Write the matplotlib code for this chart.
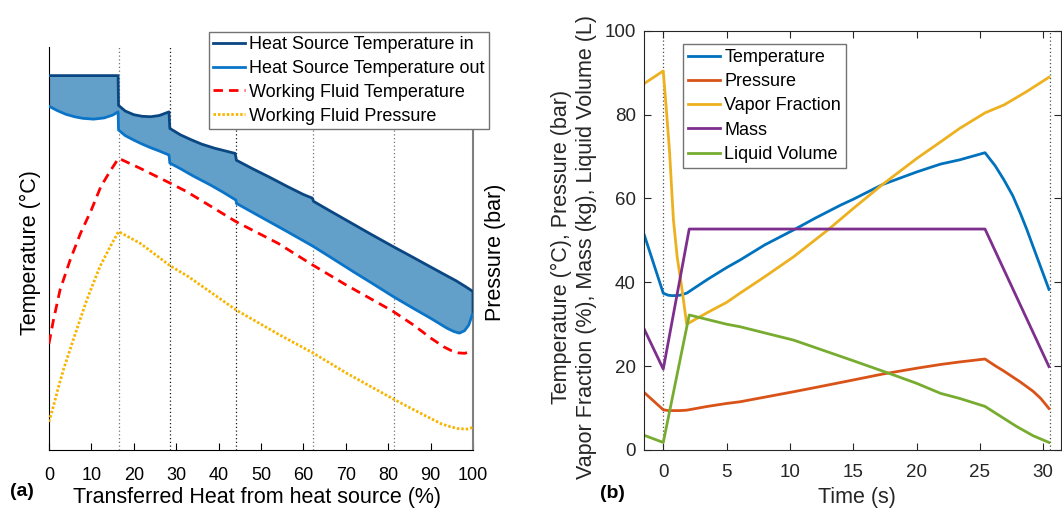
import numpy as np
import matplotlib.pyplot as plt

plt.rcParams['font.family'] = ['Liberation Sans', 'DejaVu Sans']

# ---- (a) heat source / working fluid profile (y in % of axis height, no scale shown)
hs_in_x = [0, 16.3, 16.4, 18.0, 20.0, 22.0, 24.0, 26.0, 28.3, 28.5, 31.0, 33.5, 36.0, 39.0,
           42.0, 43.9, 44.2, 48.0, 52.0, 56.0, 60.0, 62.1, 62.4, 66.0, 72.0, 76.0, 81.3,
           85.0, 89.0, 93.0, 96.0, 98.3, 99.6, 100.0, 100.0]
hs_in_y = [92.9, 92.9, 85.5, 84.1, 83.2, 82.8, 82.7, 83.0, 83.9, 79.8, 78.2, 77.0, 75.9, 74.9,
           74.1, 73.6, 71.9, 69.8, 67.7, 65.5, 63.4, 62.5, 61.7, 59.5, 55.9, 53.5, 50.4,
           48.3, 46.0, 43.7, 42.0, 40.5, 39.6, 39.3, 33.7]
hs_out_x = [0, 2, 4, 6, 8, 10.5, 13, 15, 16.3, 16.4, 18, 20, 22, 24, 26, 28.3, 28.5, 31, 34,
            38, 41, 44.1, 44.2, 50, 56, 62.2, 66, 72, 76, 81.3, 86, 90, 93.9, 95.5, 96.8,
            98, 99, 99.8, 100]
hs_out_y = [85.3, 84.2, 83.3, 82.7, 82.3, 82.1, 82.4, 83.1, 83.9, 79.4, 78.0, 76.9, 75.9,
            75.0, 74.2, 73.2, 71.2, 69.8, 68.0, 65.8, 64.0, 62.0, 61.2, 57.8, 54.3, 50.6,
            48.1, 44.1, 41.5, 38.0, 35.1, 32.7, 30.2, 29.4, 29.0, 29.6, 31.0, 33.5, 33.7]
wf_t_x = [0, 1.0, 2.6, 5.0, 7.4, 10.0, 12.2, 14.3, 16.4, 21.5, 28.6, 32.5, 44.2, 54.0,
          62.2, 70.0, 81.0, 86.0, 90.0, 93.1, 95.0, 96.5, 98.0, 100.0]
wf_t_y = [26.4, 32.0, 39.7, 47.2, 53.7, 59.6, 65.3, 69.0, 72.4, 69.9, 66.2, 64.1, 56.6, 51.3,
          45.9, 41.0, 34.5, 31.0, 27.8, 25.6, 24.6, 24.1, 24.0, 24.5]
wf_p_x = [0, 1.0, 2.2, 3.4, 5.7, 8.9, 12.0, 14.4, 16.4, 21.5, 28.6, 32.9, 44.2, 54.5,
          62.4, 70.3, 81.3, 86.0, 89.9, 92.5, 94.6, 96.5, 98.6, 100.0]
wf_p_y = [7.0, 10.7, 15.5, 19.9, 27.3, 37.2, 45.5, 50.4, 54.2, 51.3, 45.7, 43.0, 34.7, 28.5,
          24.0, 19.0, 12.6, 10.0, 7.9, 6.5, 5.8, 5.3, 5.2, 5.6]
zone_x = [16.4, 28.5, 44.1, 62.2, 81.3]
zone_c = ['0.45', '0.1', '0.1', '0.45', '0.45']

# ---- (b) transient
t = [-1.5, 0, 0.4, 0.8, 1.3, 1.85, 3.5, 5.0, 6.06, 8.0, 10.3, 12.0, 14.0, 15.0, 17.3, 20.0,
     21.9, 23.4, 25.4, 26.2, 26.9, 27.6, 28.2, 28.7, 29.2, 29.8, 30.45]
temp = [51.3, 37.4, 36.9, 36.8, 36.9, 37.4, 40.7, 43.5, 45.3, 48.9, 52.5, 55.3, 58.4, 59.8,
        63.3, 66.3, 68.2, 69.2, 70.9, 67.8, 64.4, 60.6, 56.4, 52.6, 48.5, 43.6, 38.3]
pres = [13.7, 9.6, 9.4, 9.4, 9.4, 9.5, 10.4, 11.1, 11.5, 12.6, 13.9, 14.9, 16.1, 16.7,
        18.1, 19.5, 20.4, 21.0, 21.7, 20.1, 18.8, 17.4, 16.2, 15.1, 14.0, 12.3, 9.9]
t_vap = [-1.5, 0, 0.25, 0.5, 0.8, 1.1, 1.45, 1.85, 3.5, 5.0, 6.06, 8.0, 10.3, 13.0, 15.0,
         17.3, 20.0, 21.9, 23.4, 25.4, 26.9, 28.7, 30.45]
vapor = [87.4, 90.4, 81.0, 71.0, 55.0, 46.0, 39.0, 30.0, 32.8, 35.2, 37.4, 41.3, 46.1, 52.5,
         57.6, 63.3, 69.5, 73.5, 76.7, 80.4, 82.3, 85.5, 88.9]
t_mass = [-1.5, 0, 2.05, 25.4, 30.45]
mass = [28.8, 19.3, 52.7, 52.7, 19.9]
t_liq = [-1.5, 0, 2.05, 5.0, 6.06, 10.3, 14.8, 17.9, 20.0, 21.9, 23.4, 25.4, 26.7, 27.9,
         29.2, 30.45]
liquid = [3.5, 1.8, 32.2, 30.0, 29.4, 26.2, 21.5, 18.2, 15.9, 13.5, 12.3, 10.4, 7.9, 5.6,
          3.4, 1.8]
marks_b = [0, 30.55]

W, H = 1062, 513
fig = plt.figure(figsize=(W / 100, H / 100), dpi=100)

# ---------------- panel (a)
ax = fig.add_axes([49 / W, 1 - 450 / H, 424 / W, 403 / H])
ax.fill(np.r_[hs_in_x, hs_out_x[::-1]], np.r_[hs_in_y, hs_out_y[::-1]],
        color='#62a0c9', lw=0, zorder=1)
for xv, c in zip(zone_x, zone_c):
    ax.axvline(xv, color=c, ls=(0, (1, 2)), lw=0.9, zorder=0)
ax.plot(hs_in_x, hs_in_y, color='#0a4682', lw=2, label='Heat Source Temperature in', zorder=3)
ax.plot(hs_out_x, hs_out_y, color='#0a74c8', lw=2, label='Heat Source Temperature out', zorder=3)
ax.plot(wf_t_x, wf_t_y, color='#ff0000', lw=2, ls=(0, (3.4, 2.2)),
        label='Working Fluid Temperature', zorder=3)
ax.plot(wf_p_x, wf_p_y, color='#f7b500', lw=2, ls=(0, (0.9, 0.7)),
        label='Working Fluid Pressure', zorder=3)
ax.set_xlim(0, 100)
ax.set_ylim(0, 100)
ax.set_xticks(range(0, 101, 10))
ax.set_yticks([])
ax.spines['top'].set_visible(False)
ax.spines['right'].set_color('0.5')
ax.spines['right'].set_linewidth(1.5)
ax.tick_params(axis='x', direction='in', length=5, labelsize=13, pad=12)
leg = ax.legend(loc='upper left', bbox_to_anchor=(209 / W, 1 - 32 / H),
                bbox_transform=fig.transFigure, borderaxespad=0, fontsize=13,
                handlelength=1.75, handletextpad=0.25, labelspacing=0.38, borderpad=0.22,
                fancybox=False, framealpha=1, edgecolor='0.45')
leg.get_frame().set_linewidth(1)
fig.text(30 / W, 1 - 253 / H, 'Temperature (°C)', rotation=90, ha='center', va='center',
         fontsize=15.5)
fig.text(496 / W, 1 - 252 / H, 'Pressure (bar)', rotation=90, ha='center', va='center',
         fontsize=15.5)
fig.text(257 / W, 1 - 497 / H, 'Transferred Heat from heat source (%)', ha='center',
         va='center', fontsize=15.5)
fig.text(10 / W, 1 - 491 / H, '(a)', fontweight='bold', ha='left', va='center', fontsize=14)

# ---------------- panel (b)
bx = fig.add_axes([644 / W, 1 - 450 / H, 417 / W, 419.3 / H])
for xv in marks_b:
    bx.axvline(xv, color='0.3', ls=(0, (1, 2)), lw=0.9, zorder=0)
bx.plot(t, temp, color='#0072BD', lw=2, label='Temperature')
bx.plot(t, pres, color='#D95319', lw=2, label='Pressure')
bx.plot(t_vap, vapor, color='#EDB120', lw=2, label='Vapor Fraction')
bx.plot(t_mass, mass, color='#7E2F8E', lw=2, label='Mass')
bx.plot(t_liq, liquid, color='#77AC30', lw=2, label='Liquid Volume')
bx.set_xlim(-1.52, 31.4)
bx.set_ylim(0, 100)
bx.set_xticks(range(0, 31, 5))
bx.set_yticks(range(0, 101, 20))
for s in bx.spines.values():
    s.set_color('0.15')
bx.tick_params(direction='in', length=5, labelsize=13.5, colors='0.15', top=True, right=True)
bx.tick_params(axis='x', pad=10)
bx.tick_params(axis='y', pad=6)
leg2 = bx.legend(loc='upper left', bbox_to_anchor=(683 / W, 1 - 44 / H),
                 bbox_transform=fig.transFigure, borderaxespad=0, fontsize=13,
                 handlelength=1.75, handletextpad=0.25, labelspacing=0.4, borderpad=0.28,
                 fancybox=False, framealpha=1, edgecolor='0.45')
leg2.get_frame().set_linewidth(1)
fig.text(574 / W, 1 - 247 / H,
         'Temperature (°C), Pressure (bar)\nVapor Fraction (%), Mass (kg), Liquid Volume (L)',
         rotation=90, ha='center', va='center', multialignment='center', fontsize=15.5,
         linespacing=1.3, color='0.15')
fig.text(857 / W, 1 - 497 / H, 'Time (s)', ha='center', va='center', fontsize=15.5,
         color='0.15')
fig.text(600 / W, 1 - 493 / H, '(b)', fontweight='bold', ha='left', va='center', fontsize=14)

fig.savefig('out.png', dpi=100)
